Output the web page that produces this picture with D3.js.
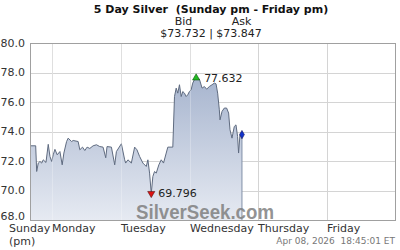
<!DOCTYPE html>
<html><head><meta charset="utf-8">
<script src="https://cdn.jsdelivr.net/npm/d3@7"></script>
<style>body{margin:0;background:#fff;}svg{display:block;font-family:"DejaVu Sans",Verdana,sans-serif;}text{white-space:pre;}</style>
</head><body>
<script>
// hours since Sunday 00:00
const hours = [16.24,18.23,18.57,19.13,19.72,20.31,20.87,21.81,22.61,23.2,23.79,24.35,24.94,25.74,26.68,27.48,28.07,29.01,29.57,30.75,31.3,33.04,33.63,34.57,35.37,36.17,37.11,38.26,39.44,40.59,41.74,42.68,43.13,44.66,45.81,46.4,48.14,49.29,49.63,50.43,51.62,52.77,53.57,54.5,55.65,56.83,57.39,57.98,58.57,59.13,59.72,60.31,61.22,62.05,62.85,63.79,64.35,66.09,66.68,67.27,67.83,68.42,69.01,69.57,70.16,70.75,71.3,71.9,72.49,73.04,73.63,74.23,75.37,76.31,77.11,77.91,78.85,79.79,80.59,81.18,81.74,82.33,82.57,83.27,84.07,84.87,85.57,86.05,86.75,87.55,88.14,88.7,89.05,89.53,90.23];
const prices = [73.03,73.03,71.29,71.86,71.97,71.86,72.08,71.90,73.13,72.31,71.97,72.42,72.79,72.42,72.64,71.74,72.54,73.32,73.55,73.32,73.39,73.32,72.76,72.94,72.71,72.94,72.85,73.03,73.10,72.98,72.94,72.22,72.98,72.94,71.74,72.64,73.17,72.08,71.86,72.08,71.86,72.94,72.76,72.31,71.86,71.63,72.08,71.18,69.796,70.95,71.29,71.18,71.74,72.08,71.86,72.54,72.94,72.94,76.37,76.94,76.60,77.17,76.37,76.71,76.60,76.37,76.49,76.71,76.83,77.28,77.51,77.632,77.55,76.94,77.05,76.87,77.05,77.17,77.28,77.23,76.60,75.47,74.79,75.36,75.59,75.59,75.25,74.12,73.55,74.34,74.45,73.66,72.54,73.78,73.79];
const yTicks = [68,70,72,74,76,78,80];
const dayHours = [24,48,72,96,120];
const dayLabels = ["Sunday","Monday","Tuesday","Wednesday","Thursday","Friday"];
const titleText = "5 Day Silver  (Sunday pm - Friday pm)";
const bid = "73.732", ask = "73.847";
const highText = "77.632", lowText = "69.796";
const stamp = "Apr 08, 2026  18:45:01 ET";
const domainHours = [16.24,144];

const W=400,H=250, L=30,R=396,T=43,B=220;
const svg=d3.select("body").append("svg").attr("width",W).attr("height",H);
const x=d3.scaleLinear().domain(domainHours).range([L,R]);
const y=d3.scaleLinear().domain([68,80]).range([B,T]);
const data=hours.map((h,i)=>({h,v:prices[i]}));

const defs=svg.append("defs");
const g=defs.append("linearGradient").attr("id","fill").attr("x1",0).attr("x2",0)
  .attr("gradientUnits","userSpaceOnUse").attr("y1",T).attr("y2",B);
g.append("stop").attr("offset",0).attr("stop-color","#98a8c6");
g.append("stop").attr("offset",1).attr("stop-color","#e6eaf2");

// grid
svg.append("g").selectAll("line").data(yTicks).join("line")
  .attr("x1",L).attr("x2",R).attr("y1",d=>Math.round(y(d))+0.5).attr("y2",d=>Math.round(y(d))+0.5)
  .attr("stroke","#d4d4d4");
svg.append("g").selectAll("line").data(dayHours).join("line")
  .attr("y1",T).attr("y2",B).attr("x1",d=>Math.round(x(d))+0.5).attr("x2",d=>Math.round(x(d))+0.5)
  .attr("stroke","#d4d4d4");

// area
const area=d3.area().x(d=>x(d.h)).y0(B).y1(d=>y(d.v));
svg.append("path").datum(data).attr("d",area).attr("fill","url(#fill)");
const last=data[data.length-1];
svg.append("path").datum(data).attr("d",d3.line().x(d=>x(d.h)).y(d=>y(d.v)))
  .attr("fill","none").attr("stroke","#5f6b80").attr("stroke-width",1);
svg.append("line").attr("x1",x(last.h)).attr("x2",x(last.h)).attr("y1",y(last.v)).attr("y2",B)
  .attr("stroke","#8090a8");

svg.append("g").selectAll("line").data(dayHours.filter(d=>x(d)<x(last.h))).join("line")
  .attr("y1",T).attr("y2",B).attr("x1",d=>Math.round(x(d))+0.5).attr("x2",d=>Math.round(x(d))+0.5)
  .attr("stroke","#ffffff").attr("stroke-opacity",0.25);

// watermark
svg.append("text").attr("x",136).attr("y",219).attr("textLength",138).attr("lengthAdjust","spacingAndGlyphs")
  .attr("font-family","'Liberation Sans',Arial,sans-serif").attr("font-weight","bold").attr("font-size",20)
  .attr("fill","#7f7f7f").attr("fill-opacity",0.85).text("SilverSeek.com");

// border
svg.append("rect").attr("x",L+0.5).attr("y",T+0.5).attr("width",R-L-1).attr("height",B-T).attr("fill","none").attr("stroke","#a0a0a0");

// y labels
svg.append("g").selectAll("text").data(yTicks).join("text")
  .attr("x",25).attr("y",d=>y(d)+(d===68?-4:0)).attr("dy","0.35em").attr("text-anchor","end")
  .attr("font-size",11).attr("fill","#333").text(d=>d.toFixed(1));

// day labels
const dayX=[9].concat(dayHours.map(d=>Math.round(x(d))));
svg.append("g").selectAll("text").data(dayLabels).join("text")
  .attr("x",(d,i)=>dayX[i]).attr("y",232).attr("font-size",11).attr("fill","#333").text(d=>d);
svg.append("text").attr("x",9).attr("y",244.5).attr("font-size",11).attr("fill","#333").text("(pm)");

// title
svg.append("text").attr("x",211).attr("y",13).attr("text-anchor","middle").attr("font-weight","bold").attr("font-size",11).attr("fill","#111").text(titleText);
svg.append("text").attr("x",183.5).attr("y",24.5).attr("text-anchor","middle").attr("font-size",11).attr("fill","#222").text("Bid");
svg.append("text").attr("x",241.5).attr("y",24.5).attr("text-anchor","middle").attr("font-size",11).attr("fill","#222").text("Ask");
svg.append("text").attr("x",211).attr("y",37).attr("text-anchor","middle").attr("font-size",11).attr("fill","#222").text("$"+bid+" | $"+ask);

// markers
const hi=data.reduce((a,b)=>b.v>a.v?b:a), lo=data.reduce((a,b)=>b.v<a.v?b:a);
const sym=d3.symbol().type(d3.symbolTriangle).size(22);
svg.append("path").attr("d",sym).attr("transform",`translate(${x(hi.h)},${y(hi.v)})`).attr("fill","#22bb22").attr("stroke","#115511").attr("stroke-width",0.6);
svg.append("path").attr("d",sym).attr("transform",`translate(${x(lo.h)},${y(lo.v)}) rotate(180)`).attr("fill","#dd1111").attr("stroke","#551111").attr("stroke-width",0.6);
svg.append("path").attr("d",d3.symbol().type(d3.symbolDiamond).size(20)).attr("transform",`translate(${x(last.h)},${y(last.v)})`).attr("fill","#1133cc").attr("stroke","#111155").attr("stroke-width",0.6);
svg.append("text").attr("x",x(hi.h)+8).attr("y",y(hi.v)).attr("dy","0.35em").attr("font-size",11).attr("fill","#222").text(highText);
svg.append("text").attr("x",x(lo.h)+7).attr("y",y(lo.v)).attr("dy","0.35em").attr("font-size",11).attr("fill","#222").text(lowText);

// timestamp
svg.append("text").attr("x",395).attr("y",244).attr("text-anchor","end").attr("font-size",9).attr("fill","#777").text(stamp);
</script>
</body></html>
